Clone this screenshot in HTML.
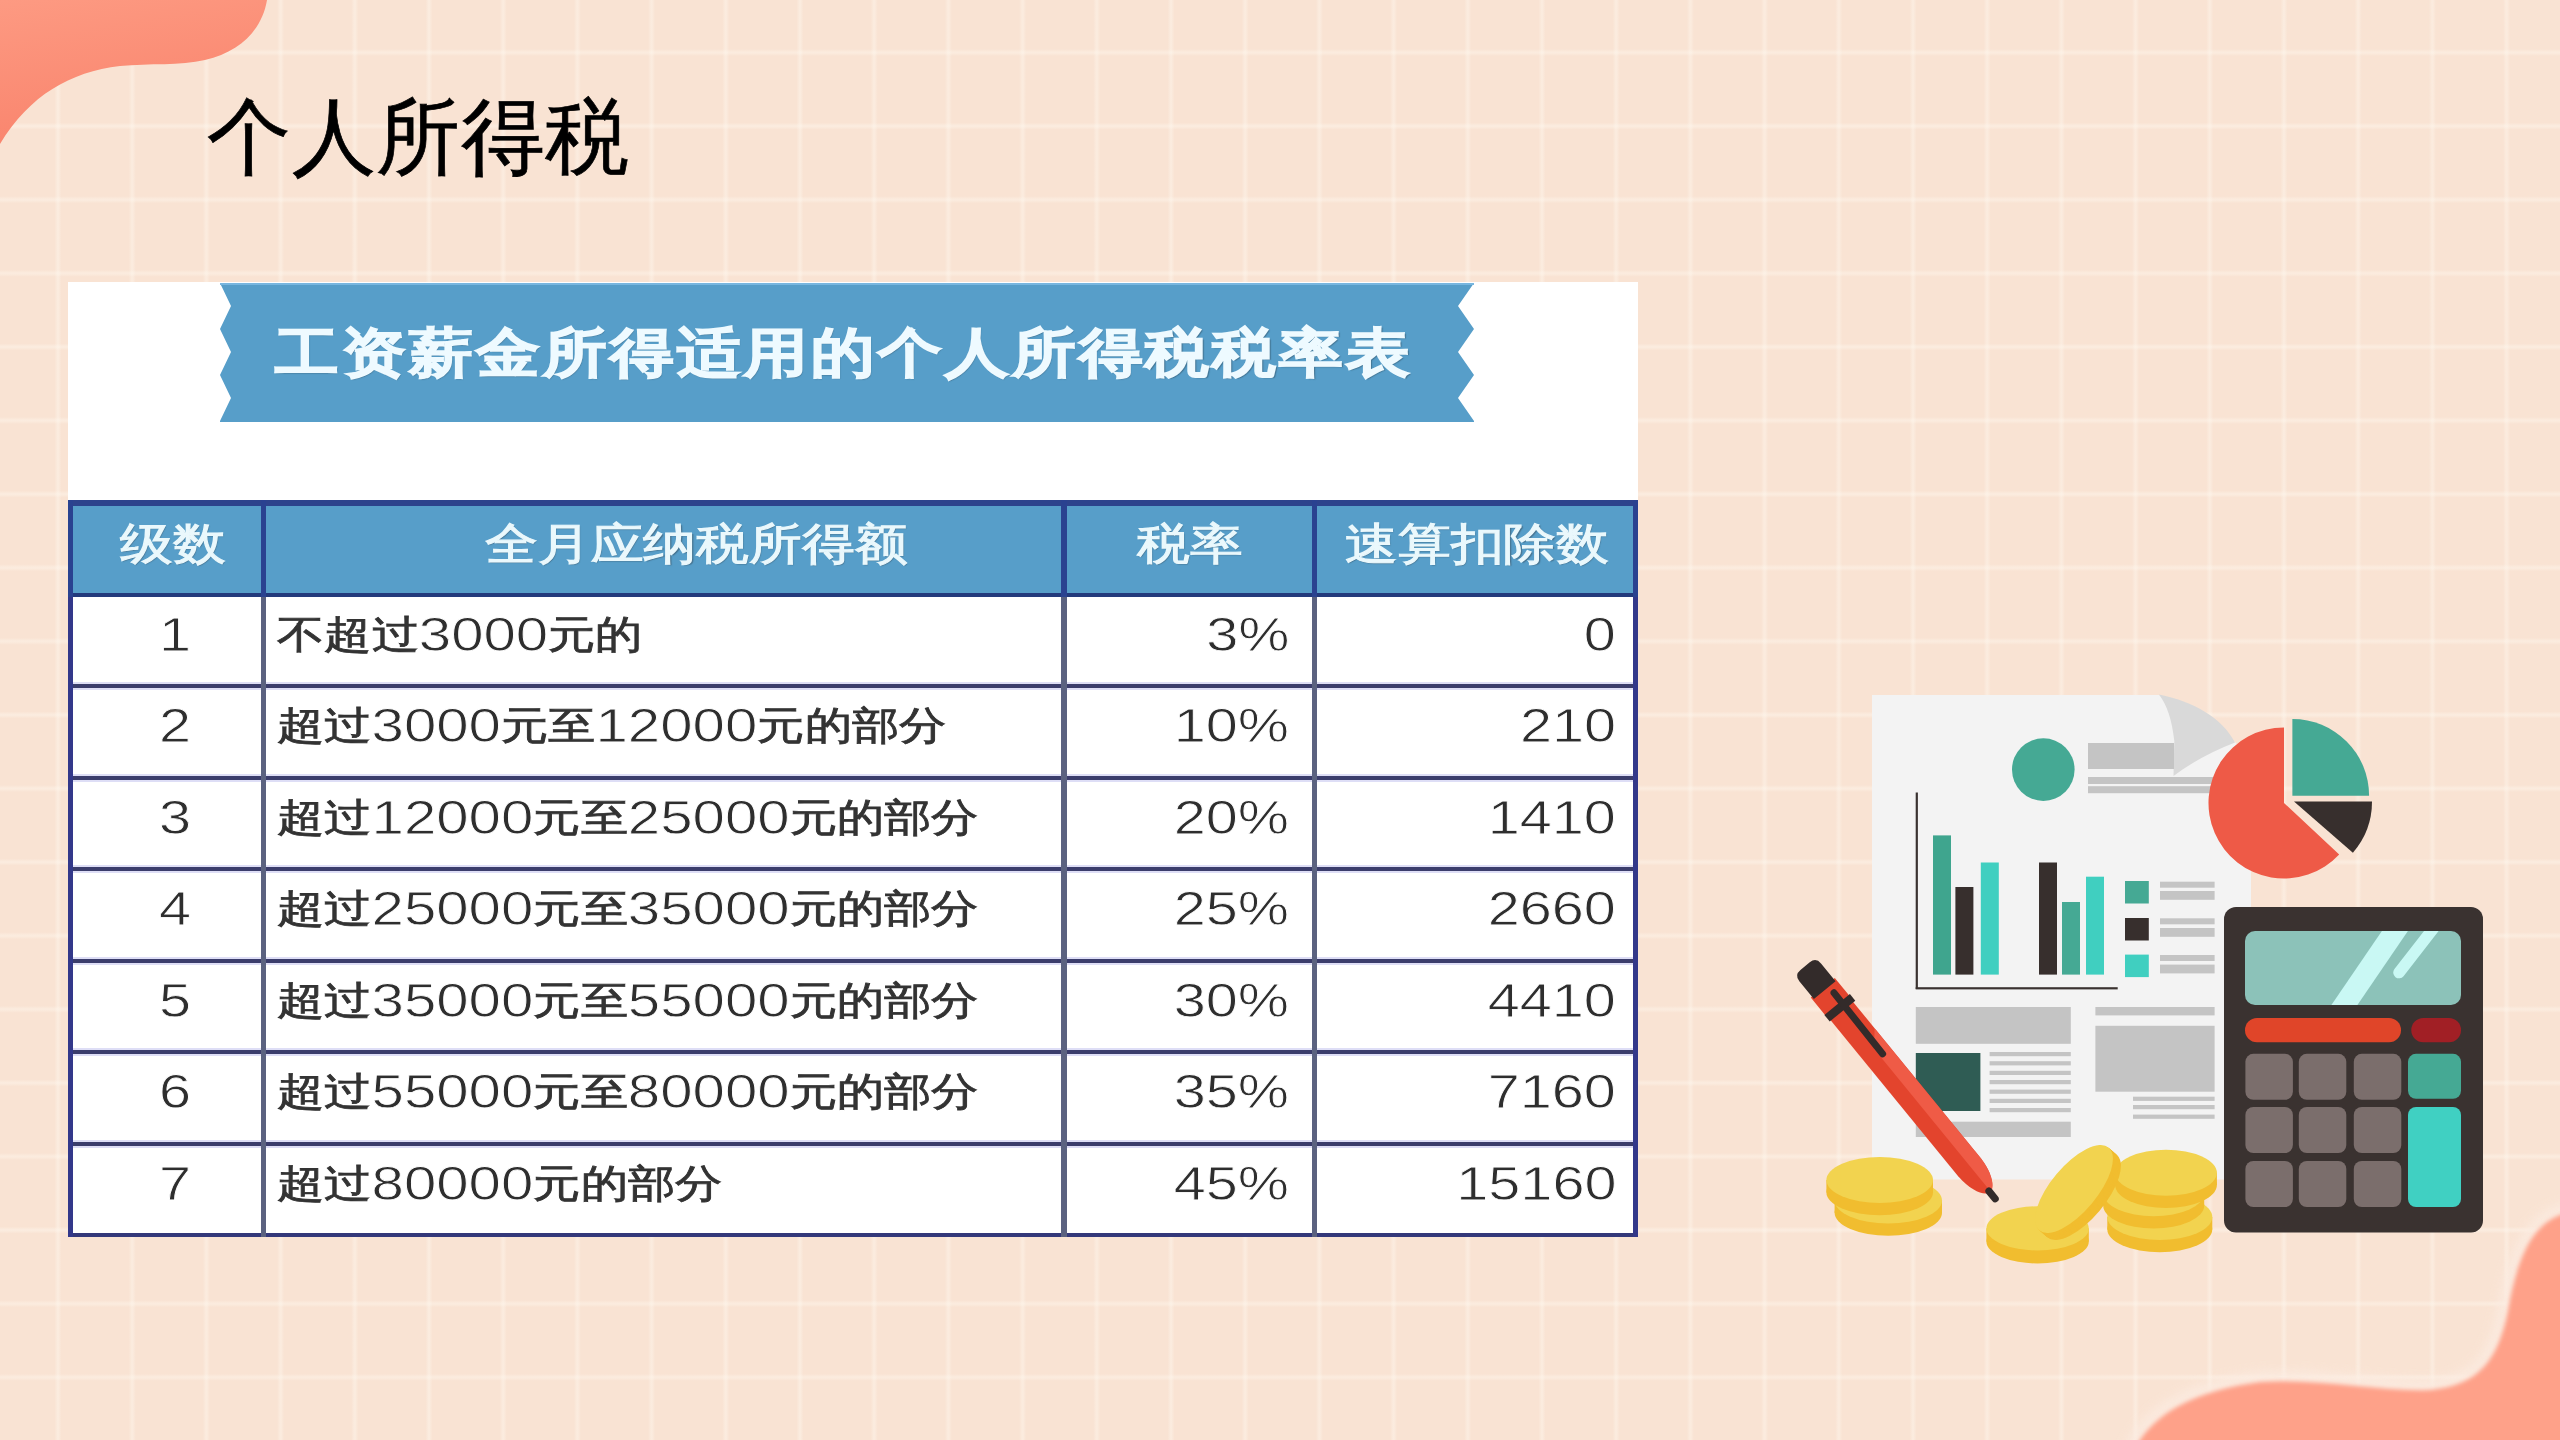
<!DOCTYPE html>
<html><head><meta charset="utf-8">
<style>
html,body{margin:0;padding:0;}
body{width:2560px;height:1440px;overflow:hidden;position:relative;font-family:"Liberation Sans",sans-serif;
background-color:#f9e3d3;
background-image:
 repeating-linear-gradient(90deg, rgba(255,250,242,0) 0px, rgba(255,250,242,0) 54.5px, rgba(255,250,242,0.36) 57.5px, rgba(255,250,242,0.36) 58.5px, rgba(255,250,242,0) 61.5px, rgba(255,250,242,0) 74.2px),
 repeating-linear-gradient(180deg, rgba(255,250,242,0) 0px, rgba(255,250,242,0) 49px, rgba(255,250,242,0.36) 52px, rgba(255,250,242,0.36) 53px, rgba(255,250,242,0) 56px, rgba(255,250,242,0) 73.6px);
}
.abs{position:absolute;}
#title{left:207px;top:80px;font-size:86px;line-height:110px;color:#000;white-space:nowrap;}
#imgbox{left:68px;top:282px;width:1570px;height:955px;background:#fff;}
.hl{position:absolute;background:#2c3d86;}
.vl{position:absolute;background:#2c3d86;}
.cell{position:absolute;white-space:nowrap;color:#333;font-size:46px;line-height:60px;}
.hd{position:absolute;white-space:nowrap;color:#eaf8fc;font-size:50px;font-weight:normal;-webkit-text-stroke:1.1px #eaf8fc;line-height:60px;letter-spacing:3px;text-shadow:1px 1px 1px rgba(60,90,110,0.6);}

.c1{left:175px;transform:translateX(-50%) scaleX(1.2);}
.c2{left:277px;transform:scaleX(1.212);transform-origin:0 50%;}
.c3{right:1271px;transform:scaleX(1.2);transform-origin:100% 50%;}
.c4{right:944px;transform:scaleX(1.2);transform-origin:100% 50%;}
.cell{line-height:70px;margin-top:3px;-webkit-text-stroke:0.8px #333;font-size:39px;}
.dg{font-size:48px;vertical-align:-3px;-webkit-text-stroke:0.8px #fff;color:#2e2e2e;}
.hd{font-size:44px;letter-spacing:0;transform:scaleX(1.2);transform-origin:0 50%;}
#bntitle{left:275px;top:316px;font-size:53px;font-weight:900;-webkit-text-stroke:1.4px #eefaff;letter-spacing:2.8px;line-height:74px;color:#eefaff;white-space:nowrap;text-shadow:1px 1px 1px rgba(50,80,100,0.5);transform:scaleX(1.2);transform-origin:0 50%;}
#title{font-size:84px;-webkit-text-stroke:0.7px #000;letter-spacing:0.6px;top:82px;}
</style></head>
<body>
<svg class="abs" style="left:0;top:0" width="2560" height="1440" viewBox="0 0 2560 1440">
  <defs>
    <linearGradient id="gtl" x1="0" y1="0" x2="0.3" y2="1">
      <stop offset="0" stop-color="#fd9a82"/>
      <stop offset="1" stop-color="#f9846d"/>
    </linearGradient>
    <filter id="blur2"><feGaussianBlur stdDeviation="2"/></filter><filter id="blur6" x="-20%" y="-20%" width="140%" height="140%"><feGaussianBlur stdDeviation="5"/></filter>
  </defs>
  <path d="M0 0 L267 0 C262 30 240 52 205 60 C180 66 150 63 120 66 C70 72 30 95 0 144 Z" fill="url(#gtl)"/>
  <path d="M2125 1470 L2140 1440 C2160 1410 2200 1390 2260 1382 C2320 1378 2380 1392 2430 1390 C2480 1385 2500 1360 2510 1300 C2520 1250 2535 1225 2560 1215 L2600 1205 L2600 1480 L2125 1480 Z" fill="none" stroke="#fcece2" stroke-width="22" opacity="0.7" filter="url(#blur6)"/><path d="M2125 1470 L2140 1440 C2160 1410 2200 1390 2260 1382 C2320 1378 2380 1392 2430 1390 C2480 1385 2500 1360 2510 1300 C2520 1250 2535 1225 2560 1215 L2600 1205 L2600 1480 L2125 1480 Z" fill="#fea189" filter="url(#blur2)"/>
</svg>
<div id="title" class="abs">个人所得税</div>
<div id="imgbox" class="abs"></div>
<svg class="abs" style="left:0;top:0" width="2560" height="1440" viewBox="0 0 2560 1440">
 <polygon points="220,283 1474,283 1458,306 1474,329 1458,352 1474,375 1458,398 1474,421 1474,422 220,422 220,421 231,398 220,375 231,352 220,329 231,306" fill="#579ec9"/>
 <rect x="220" y="283" width="1254" height="2" fill="#78b6df"/>
</svg>
<div id="bntitle" class="abs">工资薪金所得适用的个人所得税税率表</div>
<div class="hl" style="left:68px;top:500px;width:1570px;height:6px;background:#2d438c"></div>
<div class="abs" style="left:68px;top:506px;width:1570px;height:87px;background:#579ec9"></div>
<div class="hl" style="left:68px;top:593px;width:1570px;height:4px;background:#233a7c"></div>
<div class="hl" style="left:68px;top:684px;width:1570px;height:4px;background:#3b3d6c;box-shadow:0 -2px 0 #dedef6,0 2px 0 #dedef6"></div>
<div class="hl" style="left:68px;top:775.5px;width:1570px;height:4px;background:#3b3d6c;box-shadow:0 -2px 0 #dedef6,0 2px 0 #dedef6"></div>
<div class="hl" style="left:68px;top:867px;width:1570px;height:4px;background:#3b3d6c;box-shadow:0 -2px 0 #dedef6,0 2px 0 #dedef6"></div>
<div class="hl" style="left:68px;top:958.5px;width:1570px;height:4px;background:#3b3d6c;box-shadow:0 -2px 0 #dedef6,0 2px 0 #dedef6"></div>
<div class="hl" style="left:68px;top:1050px;width:1570px;height:4px;background:#3b3d6c;box-shadow:0 -2px 0 #dedef6,0 2px 0 #dedef6"></div>
<div class="hl" style="left:68px;top:1142px;width:1570px;height:4px;background:#3b3d6c;box-shadow:0 -2px 0 #dedef6,0 2px 0 #dedef6"></div>
<div class="hl" style="left:68px;top:1233px;width:1570px;height:4px;background:#34387a"></div>
<div class="vl" style="left:68px;top:500px;width:5px;height:97px;background:#2a4290"></div>
<div class="vl" style="left:68px;top:597px;width:5px;height:640px;background:#33388a"></div>
<div class="vl" style="left:260.5px;top:500px;width:5px;height:97px;background:#2a4290"></div>
<div class="vl" style="left:260.5px;top:597px;width:5px;height:640px;background:#5b6280"></div>
<div class="vl" style="left:1061px;top:500px;width:5.5px;height:97px;background:#2a4290"></div>
<div class="vl" style="left:1061px;top:597px;width:5.5px;height:640px;background:#5b6280"></div>
<div class="vl" style="left:1311.5px;top:500px;width:5.5px;height:97px;background:#2a4290"></div>
<div class="vl" style="left:1311.5px;top:597px;width:5.5px;height:640px;background:#5b6280"></div>
<div class="vl" style="left:1633px;top:500px;width:5px;height:97px;background:#2a4290"></div>
<div class="vl" style="left:1633px;top:597px;width:5px;height:640px;background:#33388a"></div>
<div class="hd" style="left:120px;top:514px">级数</div>
<div class="hd" style="left:485px;top:514px">全月应纳税所得额</div>
<div class="hd" style="left:1137px;top:514px">税率</div>
<div class="hd" style="left:1345px;top:514px">速算扣除数</div>
<div class="cell c1" style="top:597px"><span class="dg">1</span></div>
<div class="cell c2" style="top:597px">不超过<span class="dg">3000</span>元的</div>
<div class="cell c3" style="top:597px"><span class="dg">3%</span></div>
<div class="cell c4" style="top:597px"><span class="dg">0</span></div>
<div class="cell c1" style="top:688px"><span class="dg">2</span></div>
<div class="cell c2" style="top:688px">超过<span class="dg">3000</span>元至<span class="dg">12000</span>元的部分</div>
<div class="cell c3" style="top:688px"><span class="dg">10%</span></div>
<div class="cell c4" style="top:688px"><span class="dg">210</span></div>
<div class="cell c1" style="top:779.5px"><span class="dg">3</span></div>
<div class="cell c2" style="top:779.5px">超过<span class="dg">12000</span>元至<span class="dg">25000</span>元的部分</div>
<div class="cell c3" style="top:779.5px"><span class="dg">20%</span></div>
<div class="cell c4" style="top:779.5px"><span class="dg">1410</span></div>
<div class="cell c1" style="top:871px"><span class="dg">4</span></div>
<div class="cell c2" style="top:871px">超过<span class="dg">25000</span>元至<span class="dg">35000</span>元的部分</div>
<div class="cell c3" style="top:871px"><span class="dg">25%</span></div>
<div class="cell c4" style="top:871px"><span class="dg">2660</span></div>
<div class="cell c1" style="top:962.5px"><span class="dg">5</span></div>
<div class="cell c2" style="top:962.5px">超过<span class="dg">35000</span>元至<span class="dg">55000</span>元的部分</div>
<div class="cell c3" style="top:962.5px"><span class="dg">30%</span></div>
<div class="cell c4" style="top:962.5px"><span class="dg">4410</span></div>
<div class="cell c1" style="top:1054px"><span class="dg">6</span></div>
<div class="cell c2" style="top:1054px">超过<span class="dg">55000</span>元至<span class="dg">80000</span>元的部分</div>
<div class="cell c3" style="top:1054px"><span class="dg">35%</span></div>
<div class="cell c4" style="top:1054px"><span class="dg">7160</span></div>
<div class="cell c1" style="top:1146px"><span class="dg">7</span></div>
<div class="cell c2" style="top:1146px">超过<span class="dg">80000</span>元的部分</div>
<div class="cell c3" style="top:1146px"><span class="dg">45%</span></div>
<div class="cell c4" style="top:1146px"><span class="dg">15160</span></div>
<!--ILLUS--><svg class="abs" style="left:0;top:0" width="2560" height="1440" viewBox="0 0 2560 1440">
<defs><clipPath id="scr"><rect x="2245" y="931" width="216" height="74" rx="10"/></clipPath></defs>
<path d="M1872 695 L2159 695 L2235 742 L2251 760 L2251 1179.5 L1872 1179.5 Z" fill="#f3f3f3"/>
<path d="M2159 694.5 C2195 702 2222 718 2235 742.5 Q2200 756 2173.5 776 L2174.3 741 C2172 720 2167 705 2159 694.5 Z" fill="#d9d9d9"/>
<circle cx="2043.3" cy="769.6" r="31.3" fill="#45a994"/>
<rect x="2088" y="743" width="86" height="26" fill="#c4c4c4"/>
<rect x="2088" y="777" width="125" height="7" fill="#c4c4c4"/>
<rect x="2088" y="786.2" width="125" height="7" fill="#c4c4c4"/>
<rect x="1915.7" y="792.5" width="2.2" height="196.5" fill="#3a3230"/>
<rect x="1915.7" y="987.2" width="202" height="2.2" fill="#3a3230"/>
<rect x="1933" y="835.4" width="18" height="139.2" fill="#3fa58e"/>
<rect x="1955.4" y="887" width="18" height="87.6" fill="#372f2d"/>
<rect x="1980.8" y="862.5" width="18" height="112.1" fill="#40cfc0"/>
<rect x="2039" y="862.5" width="18" height="112.1" fill="#372f2d"/>
<rect x="2062" y="902" width="18" height="72.6" fill="#45a994"/>
<rect x="2086" y="876.7" width="18" height="97.9" fill="#40cfc0"/>
<rect x="2125" y="881" width="23.8" height="22.5" fill="#45a994"/>
<rect x="2125" y="918" width="23.8" height="22.5" fill="#372f2d"/>
<rect x="2125" y="954.6" width="23.8" height="22.5" fill="#40cfc0"/>
<rect x="2160" y="881.7" width="54.6" height="6" fill="#c4c4c4"/>
<rect x="2160" y="891" width="54.6" height="8.8" fill="#c4c4c4"/>
<rect x="2160" y="918.3" width="54.6" height="6" fill="#c4c4c4"/>
<rect x="2160" y="928" width="54.6" height="8.8" fill="#c4c4c4"/>
<rect x="2160" y="955" width="54.6" height="6" fill="#c4c4c4"/>
<rect x="2160" y="964.6" width="54.6" height="8.8" fill="#c4c4c4"/>
<rect x="1915.8" y="1007" width="155" height="36.8" fill="#c4c4c4"/>
<rect x="1915.8" y="1053" width="64.6" height="58" fill="#2f5c54"/>
<rect x="1989.6" y="1052" width="81.2" height="4.2" fill="#c4c4c4"/>
<rect x="1989.6" y="1061.2" width="81.2" height="4.2" fill="#c4c4c4"/>
<rect x="1989.6" y="1070.8" width="81.2" height="4.2" fill="#c4c4c4"/>
<rect x="1989.6" y="1080" width="81.2" height="4.2" fill="#c4c4c4"/>
<rect x="1989.6" y="1089.6" width="81.2" height="4.2" fill="#c4c4c4"/>
<rect x="1989.6" y="1098.8" width="81.2" height="4.2" fill="#c4c4c4"/>
<rect x="1989.6" y="1108" width="81.2" height="4.2" fill="#c4c4c4"/>
<rect x="1915.8" y="1121.7" width="155" height="15.3" fill="#c4c4c4"/>
<rect x="2095.4" y="1007" width="119.2" height="8.4" fill="#c4c4c4"/>
<rect x="2095.4" y="1025.8" width="119.2" height="65.9" fill="#c4c4c4"/>
<rect x="2133" y="1096.7" width="81.6" height="4.2" fill="#c4c4c4"/>
<rect x="2133" y="1105" width="81.6" height="4.2" fill="#c4c4c4"/>
<rect x="2133" y="1114.6" width="81.6" height="4.2" fill="#c4c4c4"/>
<path d="M2284 803 L2284 727.5 A75.5 75.5 0 1 0 2339.2 854.5 Z" fill="#ee5a47"/>
<path d="M2292.4 795.7 L2292.4 719 A76.7 76.7 0 0 1 2369.1 795.7 Z" fill="#45a994"/>
<path d="M2294 801.5 L2372 801.5 A78 78 0 0 1 2352.9 852.7 Z" fill="#372f2d"/>
<rect x="2224" y="907" width="259" height="325.5" rx="12" fill="#3a3230"/>
<rect x="2245" y="931" width="216" height="74" rx="10" fill="#8cc2b9"/>
<g clip-path="url(#scr)"><polygon points="2386,925 2412,925 2354,1010 2328,1010" fill="#c9f8f4"/><line x1="2436" y1="925" x2="2399" y2="972.6" stroke="#c9f8f4" stroke-width="11.5" stroke-linecap="round"/></g>
<rect x="2245" y="1018" width="156" height="24.3" rx="12" fill="#e04529"/>
<rect x="2411.3" y="1018" width="49.7" height="24.3" rx="12" fill="#a11f25"/>
<rect x="2245.4" y="1053.8" width="47.5" height="46" rx="8" fill="#7b6e6c"/>
<rect x="2298.8" y="1053.8" width="47.5" height="46" rx="8" fill="#7b6e6c"/>
<rect x="2353.8" y="1053.8" width="47.5" height="46" rx="8" fill="#7b6e6c"/>
<rect x="2245.4" y="1107" width="47.5" height="46" rx="8" fill="#7b6e6c"/>
<rect x="2298.8" y="1107" width="47.5" height="46" rx="8" fill="#7b6e6c"/>
<rect x="2353.8" y="1107" width="47.5" height="46" rx="8" fill="#7b6e6c"/>
<rect x="2245.4" y="1161" width="47.5" height="46" rx="8" fill="#7b6e6c"/>
<rect x="2298.8" y="1161" width="47.5" height="46" rx="8" fill="#7b6e6c"/>
<rect x="2353.8" y="1161" width="47.5" height="46" rx="8" fill="#7b6e6c"/>
<rect x="2408" y="1053.8" width="53" height="45" rx="8" fill="#45a994"/>
<rect x="2408" y="1107" width="53" height="100" rx="8" fill="#40d0c2"/>
<g transform="translate(1805.1 966.1) rotate(50.75)"><path d="M30 -14.5 L260 -14.5 C280 -14 292 -6 292 0 C292 6 280 14 260 14.5 L30 14.5 Z" fill="#e3442d"/><path d="M92 -14.5 L260 -14.5 C280 -14 292 -6 292 -1 L108 -1 Z" fill="#ef5b46"/><path d="M28 -15.5 L52 -15.5 L52 15.5 L28 15.5 Z" fill="#e3442d"/><rect x="287" y="-3.6" width="17" height="7.2" rx="3.6" fill="#332b2a"/><path d="M31 -14 L31 14 L8 14 Q0 14 0 6 L0 -6 Q0 -14 8 -14 Z" fill="#332b2a"/><rect x="50" y="-17" width="8.5" height="33" fill="#332b2a"/><line x1="39" y1="-5.5" x2="117" y2="-4.5" stroke="#332b2a" stroke-width="7" stroke-linecap="round"/></g>
<ellipse cx="1888.3" cy="1212.8" rx="53.7" ry="23" fill="#f1bd2f"/><rect x="1834.6" y="1200.5" width="107.4" height="12.3" fill="#f1bd2f"/><ellipse cx="1888.3" cy="1200.5" rx="53.7" ry="23" fill="#f2d34f"/>
<ellipse cx="1879.7" cy="1192.3" rx="53.3" ry="23" fill="#f1bd2f"/><rect x="1826.4" y="1180" width="106.6" height="12.3" fill="#f1bd2f"/><ellipse cx="1879.7" cy="1180" rx="53.3" ry="23" fill="#f2d34f"/>
<ellipse cx="2159.8" cy="1229.3" rx="52.5" ry="23" fill="#f1bd2f"/><rect x="2107.3" y="1217" width="105.0" height="12.3" fill="#f1bd2f"/><ellipse cx="2159.8" cy="1217" rx="52.5" ry="23" fill="#f2d34f"/>
<ellipse cx="2153.7" cy="1205.5" rx="50.5" ry="23" fill="#f1bd2f"/><rect x="2103.2" y="1193.2" width="101.0" height="12.3" fill="#f1bd2f"/><ellipse cx="2153.7" cy="1193.2" rx="50.5" ry="23" fill="#f2d34f"/>
<ellipse cx="2166" cy="1185.0" rx="50.9" ry="23" fill="#f1bd2f"/><rect x="2115.1" y="1172.7" width="101.8" height="12.3" fill="#f1bd2f"/><ellipse cx="2166" cy="1172.7" rx="50.9" ry="23" fill="#f2d34f"/>
<ellipse cx="2037.6" cy="1241.4" rx="51.2" ry="22.1" fill="#f1bd2f"/><rect x="1986.3999999999999" y="1228.4" width="102.4" height="13" fill="#f1bd2f"/><ellipse cx="2037.6" cy="1228.4" rx="51.2" ry="22.1" fill="#f2d34f"/>
<ellipse cx="2082.00" cy="1196.00" rx="54" ry="23" transform="rotate(-50 2082.00 1196.00)" fill="#f1bd2f"/><ellipse cx="2081.00" cy="1195.12" rx="54" ry="23" transform="rotate(-50 2081.00 1195.12)" fill="#f1bd2f"/><ellipse cx="2080.00" cy="1194.25" rx="54" ry="23" transform="rotate(-50 2080.00 1194.25)" fill="#f1bd2f"/><ellipse cx="2079.00" cy="1193.38" rx="54" ry="23" transform="rotate(-50 2079.00 1193.38)" fill="#f1bd2f"/><ellipse cx="2078.00" cy="1192.50" rx="54" ry="23" transform="rotate(-50 2078.00 1192.50)" fill="#f1bd2f"/><ellipse cx="2077.00" cy="1191.62" rx="54" ry="23" transform="rotate(-50 2077.00 1191.62)" fill="#f1bd2f"/><ellipse cx="2076.00" cy="1190.75" rx="54" ry="23" transform="rotate(-50 2076.00 1190.75)" fill="#f1bd2f"/><ellipse cx="2075.00" cy="1189.88" rx="54" ry="23" transform="rotate(-50 2075.00 1189.88)" fill="#f1bd2f"/><ellipse cx="2074" cy="1189" rx="54" ry="23" transform="rotate(-50 2074 1189)" fill="#f2d34f"/>
</svg><!--/ILLUS-->
</body></html>
